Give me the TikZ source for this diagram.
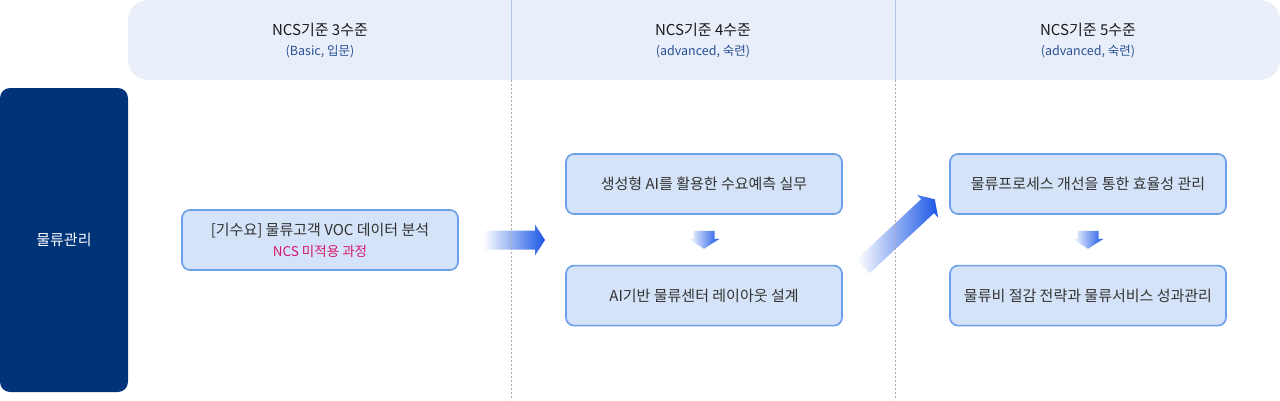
\documentclass[tikz,border=0pt]{standalone}
\usepackage{fontspec}
\setmainfont{Noto Sans CJK KR}
\usetikzlibrary{positioning,calc}

\definecolor{bandfill}{HTML}{E8EFFA}
\definecolor{bandline}{HTML}{B3C8EC}
\definecolor{navy}{HTML}{003478}
\definecolor{taskfill}{HTML}{D5E3F8}
\definecolor{taskline}{HTML}{6C9EEA}
\definecolor{subblue}{HTML}{2A4F93}
\definecolor{textgray}{HTML}{333333}
\definecolor{ncsred}{HTML}{D6186E}
\definecolor{arrowblue}{HTML}{1A56E6}

% block arrow: centre, angle, length, body half width, head half width
\newcommand{\blockarrow}[5]{%
  \begin{scope}[shift={(#1)}, rotate=#2]
    \shade[left color=white, right color=arrowblue]
      (-#3/2,-#4) -- (#3/2-10,-#4) -- (#3/2-10,-#5) -- (#3/2,0)
      -- (#3/2-10,#5) -- (#3/2-10,#4) -- (-#3/2,#4) -- cycle;
  \end{scope}}

\begin{document}
\begin{tikzpicture}[
    x=1pt, y=1pt,
    % styles
    band/.style={fill=bandfill, rounded corners=20pt, minimum width=1152pt, minimum height=80pt, inner sep=0pt},
    lvtitle/.style={text=black!90, font=\fontsize{15}{18}\selectfont},
    lvsub/.style={text=subblue, font=\fontsize{12.5}{15}\selectfont},
    field/.style={fill=navy, rounded corners=10pt, minimum width=128pt, minimum height=304pt, text=white, font=\fontsize{15}{18}\selectfont},
    task/.style={draw=taskline, fill=taskfill, line width=1.6pt, rounded corners=8pt, minimum width=276pt, minimum height=60pt, text=textgray, align=center, font=\fontsize{15}{18}\selectfont},
    sep/.style={draw=gray!65, line width=0.8pt, dash pattern=on 2pt off 2pt}
]
\useasboundingbox (0,0) rectangle (1280,400);

% --- header band ---
\node[band] (band) at (704,360) {};
\node[lvtitle] (lv3) at (320,370) {NCS기준 3수준};
\node[lvsub] (lv3s) at (320,348) {(Basic, 입문)};
\node[lvtitle] (lv4) at (703,370) {NCS기준 4수준};
\node[lvsub] (lv4s) at (703,348) {(advanced, 숙련)};
\node[lvtitle] (lv5) at (1088,370) {NCS기준 5수준};
\node[lvsub] (lv5s) at (1088,348) {(advanced, 숙련)};

% --- field ---
\node[field] (logi) at (64,160) {물류관리};

% --- tasks ---
\node[task] (voc) at (320,160) {[기수요] 물류고객 VOC 데이터 분석\\[3pt]{\fontsize{13.5}{16}\selectfont\color{ncsred}NCS 미적용 과정}};
\node[task] (demand) at (704,216) {생성형 AI를 활용한 수요예측 실무};
\node[task, below=50pt of demand] (layout) {AI기반 물류센터 레이아웃 설계};
\node[task] (process) at (1088,216) {물류프로세스 개선을 통한 효율성 관리};
\node[task, below=50pt of process] (cost) {물류비 절감 전략과 물류서비스 성과관리};

% --- arrows ---
\blockarrow{$(voc.east)!0.5!(demand.west |- voc.east)+(2,0)$}{0}{62}{9.5}{15.5}
\blockarrow{$(demand.south)!0.5!(layout.north)$}{-90}{18}{10.5}{15.5}
\blockarrow{$(process.south)!0.5!(cost.north)$}{-90}{18}{10.5}{15.5}
\blockarrow{$(layout.north east)!0.5!(process.south west)+(3,7)$}{43}{98}{9.5}{15.5}

% --- column separators ---
\coordinate (sep1) at (511,320);
\coordinate (sep2) at (895,320);
\draw[bandline, line width=1pt] (sep1) -- ++(0,80);
\draw[bandline, line width=1pt] (sep2) -- ++(0,80);
\draw[sep] (sep1) -- (sep1 |- 0,0);
\draw[sep] (sep2) -- (sep2 |- 0,0);
\end{tikzpicture}
\end{document}
